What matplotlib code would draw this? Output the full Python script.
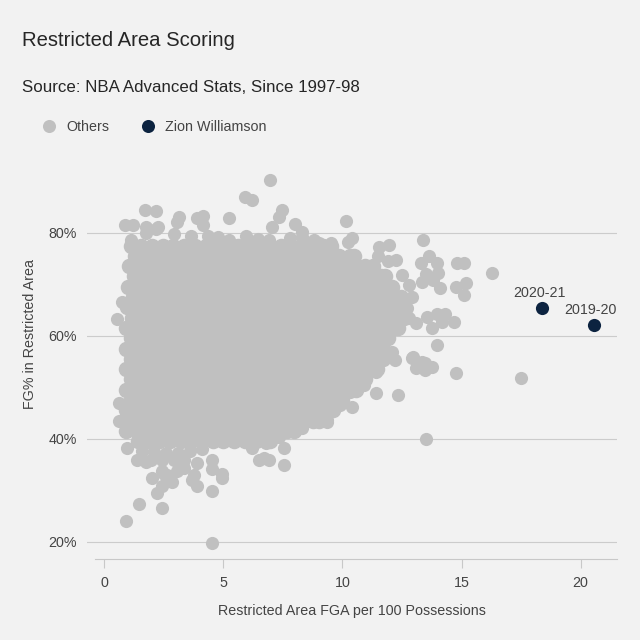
import matplotlib
matplotlib.use("Agg")
import matplotlib.pyplot as plt
from matplotlib.lines import Line2D

plt.rcParams['font.family'] = ['Liberation Sans', 'DejaVu Sans']

# dense body of the "Others" cloud, read row by row (FG% row, FGA values)
core_y = [77.5, 75.5, 73.5, 71.5, 69.5, 67.5, 65.5, 63.5, 61.5, 59.5,
          57.5, 55.5, 53.5, 51.5, 49.5, 47.5, 45.5, 43.5, 41.5, 39.5]
core_x = [
    [1.1, 1.55, 2.0, 2.45, 2.9, 3.35, 3.8, 4.25, 4.7, 5.15, 5.6, 6.05, 6.5, 6.95, 7.4, 7.85, 8.3, 8.75, 9.2, 9.5],
    [1.3, 1.75, 2.2, 2.65, 3.1, 3.55, 4.0, 4.45, 4.9, 5.35, 5.8, 6.25, 6.7, 7.15, 7.6, 8.05, 8.5, 8.95, 9.4, 9.85, 10.3, 10.5],
    [1.05, 1.5, 1.95, 2.4, 2.85, 3.3, 3.75, 4.2, 4.65, 5.1, 5.55, 6.0, 6.45, 6.9, 7.35, 7.8, 8.25, 8.7, 9.15, 9.6, 10.05, 10.5, 10.95, 11.3],
    [1.25, 1.7, 2.15, 2.6, 3.05, 3.5, 3.95, 4.4, 4.85, 5.3, 5.75, 6.2, 6.65, 7.1, 7.55, 8.0, 8.45, 8.9, 9.35, 9.8, 10.25, 10.7, 11.15, 11.6, 11.8],
    [1.0, 1.45, 1.9, 2.35, 2.8, 3.25, 3.7, 4.15, 4.6, 5.05, 5.5, 5.95, 6.4, 6.85, 7.3, 7.75, 8.2, 8.65, 9.1, 9.55, 10.0, 10.45, 10.9, 11.35, 11.8, 12.1],
    [1.2, 1.65, 2.1, 2.55, 3.0, 3.45, 3.9, 4.35, 4.8, 5.25, 5.7, 6.15, 6.6, 7.05, 7.5, 7.95, 8.4, 8.85, 9.3, 9.75, 10.2, 10.65, 11.1, 11.55, 12.0, 12.45],
    [0.95, 1.4, 1.85, 2.3, 2.75, 3.2, 3.65, 4.1, 4.55, 5.0, 5.45, 5.9, 6.35, 6.8, 7.25, 7.7, 8.15, 8.6, 9.05, 9.5, 9.95, 10.4, 10.85, 11.3, 11.75, 12.2, 12.6],
    [1.15, 1.6, 2.05, 2.5, 2.95, 3.4, 3.85, 4.3, 4.75, 5.2, 5.65, 6.1, 6.55, 7.0, 7.45, 7.9, 8.35, 8.8, 9.25, 9.7, 10.15, 10.6, 11.05, 11.5, 11.95, 12.4, 12.6],
    [0.9, 1.35, 1.8, 2.25, 2.7, 3.15, 3.6, 4.05, 4.5, 4.95, 5.4, 5.85, 6.3, 6.75, 7.2, 7.65, 8.1, 8.55, 9.0, 9.45, 9.9, 10.35, 10.8, 11.25, 11.7, 12.15, 12.35],
    [1.1, 1.55, 2.0, 2.45, 2.9, 3.35, 3.8, 4.25, 4.7, 5.15, 5.6, 6.05, 6.5, 6.95, 7.4, 7.85, 8.3, 8.75, 9.2, 9.65, 10.1, 10.55, 11.0, 11.45, 11.9],
    [0.9, 1.35, 1.8, 2.25, 2.7, 3.15, 3.6, 4.05, 4.5, 4.95, 5.4, 5.85, 6.3, 6.75, 7.2, 7.65, 8.1, 8.55, 9.0, 9.45, 9.9, 10.35, 10.8, 11.25, 11.7],
    [1.1, 1.55, 2.0, 2.45, 2.9, 3.35, 3.8, 4.25, 4.7, 5.15, 5.6, 6.05, 6.5, 6.95, 7.4, 7.85, 8.3, 8.75, 9.2, 9.65, 10.1, 10.55, 11.0, 11.45, 11.7],
    [0.9, 1.35, 1.8, 2.25, 2.7, 3.15, 3.6, 4.05, 4.5, 4.95, 5.4, 5.85, 6.3, 6.75, 7.2, 7.65, 8.1, 8.55, 9.0, 9.45, 9.9, 10.35, 10.8, 11.25, 11.45],
    [1.1, 1.55, 2.0, 2.45, 2.9, 3.35, 3.8, 4.25, 4.7, 5.15, 5.6, 6.05, 6.5, 6.95, 7.4, 7.85, 8.3, 8.75, 9.2, 9.65, 10.1, 10.55, 10.95],
    [0.9, 1.35, 1.8, 2.25, 2.7, 3.15, 3.6, 4.05, 4.5, 4.95, 5.4, 5.85, 6.3, 6.75, 7.2, 7.65, 8.1, 8.55, 9.0, 9.45, 9.9, 10.35, 10.55],
    [1.1, 1.55, 2.0, 2.45, 2.9, 3.35, 3.8, 4.25, 4.7, 5.15, 5.6, 6.05, 6.5, 6.95, 7.4, 7.85, 8.3, 8.75, 9.2, 9.65, 10.0],
    [0.9, 1.35, 1.8, 2.25, 2.7, 3.15, 3.6, 4.05, 4.5, 4.95, 5.4, 5.85, 6.3, 6.75, 7.2, 7.65, 8.1, 8.55, 9.0, 9.45, 9.6],
    [1.1, 1.55, 2.0, 2.45, 2.9, 3.35, 3.8, 4.25, 4.7, 5.15, 5.6, 6.05, 6.5, 6.95, 7.4, 7.85, 8.3, 8.75, 9.0],
    [0.9, 1.35, 1.8, 2.25, 2.7, 3.15, 3.6, 4.05, 4.5, 4.95, 5.4, 5.85, 6.3, 6.75, 7.2, 7.65, 7.95],
    [1.4, 1.85, 2.3, 2.75, 3.2, 3.65, 4.1, 4.55, 5.0, 5.45, 5.9, 6.35, 6.8, 6.95],
]

# scattered "Others" seasons around the body
edge_x = [0.85, 1.2, 1.7, 2.15, 1.75, 2.25, 3.15, 3.07, 3.9, 4.15, 4.15, 5.25, 5.9, 6.2, 6.95,
          7.05, 7.45, 7.35, 8.0, 8.3, 10.15, 10.4, 10.25, 9.5,
          1.12, 1.75, 2.17, 2.94, 3.64, 4.34, 4.76, 5.25, 5.95, 6.44, 6.93, 8.8, 9.0, 7.8, 8.3,
          11.55, 11.95, 11.5, 11.9, 12.25, 13.4, 13.65, 13.3, 13.95, 14.0, 13.5, 13.35, 13.8, 14.1,
          14.8, 15.1, 14.75, 15.2, 15.1, 16.3, 12.5, 12.8, 12.9, 12.7, 12.8,
          13.57, 13.95, 14.3, 14.7, 14.2, 13.75, 13.1, 13.95, 12.95, 13.45, 13.75, 13.1, 13.45,
          14.75, 17.5, 11.4, 12.35, 13.5, 12.2, 12.1, 12.9, 13.35,
          11.4, 10.9, 10.3, 9.9, 10.4, 9.35, 8.7, 8.3, 10.6, 9.37, 8.6, 7.35, 6.8, 6.2, 7.56, 7.56,
          6.93, 6.5, 6.72,
          0.97, 1.35, 1.76, 2.0, 2.2, 2.4, 2.86, 2.5, 3.36, 3.78, 3.9, 4.5, 4.5, 4.54, 4.96, 4.92,
          1.47, 2.44, 0.92, 4.54, 3.07, 3.66, 3.9, 3.36, 2.4, 2.65, 1.97, 2.4, 2.94,
          1.6, 2.1, 2.6, 3.1, 3.6, 4.1,
          0.55, 0.76, 0.6, 0.6]
edge_y = [81.4, 81.4, 84.5, 84.3, 81.2, 81.2, 83.1, 82.1, 82.9, 83.3, 81.4, 82.9, 87.0, 86.4, 90.3,
          81.2, 84.5, 83.1, 81.6, 80.2, 82.3, 79.0, 78.2, 78.0,
          78.5, 80.0, 80.8, 79.8, 79.4, 79.4, 79.2, 78.5, 79.4, 78.8, 78.5, 78.6, 78.0, 79.0, 79.2,
          77.3, 77.7, 75.5, 74.5, 74.7, 78.6, 75.5, 74.1, 74.1, 72.2, 72.0, 70.5, 70.8, 69.3,
          74.1, 74.2, 69.5, 70.3, 67.9, 72.2, 71.8, 69.9, 67.5, 65.4, 63.4,
          63.6, 64.2, 64.2, 62.7, 62.7, 61.5, 62.5, 58.2, 55.8, 54.7, 53.9, 53.7, 53.3,
          52.7, 51.8, 48.8, 48.4, 39.9, 55.3, 56.8, 55.6, 54.9,
          52.9, 50.4, 49.0, 46.5, 46.1, 43.6, 44.9, 42.0, 50.8, 43.2, 44.9, 40.3, 39.1, 38.1, 38.1, 34.8,
          35.8, 35.8, 36.2,
          38.1, 35.8, 35.4, 32.3, 29.5, 30.9, 31.5, 33.2, 34.4, 32.9, 30.9, 29.9, 35.8, 34.2, 33.2, 32.3,
          27.4, 26.6, 24.1, 19.8, 33.8, 31.9, 35.2, 35.8, 33.8, 32.9, 35.8, 35.8, 35.8,
          37.6, 37.4, 37.3, 37.3, 37.6, 38.0,
          63.3, 66.6, 43.5, 47.0]

zion_x = [18.4, 20.55]
zion_y = [65.4, 62.1]
zion_labels = ["2020-21", "2019-20"]

y_ticks = [20, 40, 60, 80]
x_ticks = [0, 5, 10, 15, 20]

bg = '#f2f2f2'
grey = '#c0c0c0'
navy = '#0c2340'
txt = '#444444'

body_x = [x for row in core_x for x in row]
body_y = [y for y, row in zip(core_y, core_x) for _ in row]

fig = plt.figure(figsize=(6.4, 6.4), dpi=100, facecolor=bg)
ax = fig.add_axes([87 / 640, 1 - 559.3 / 640, 530 / 640, 409 / 640], facecolor=bg)

ax.scatter(body_x, body_y, s=125, color=grey, linewidths=0, zorder=2)
ax.scatter(edge_x, edge_y, s=90, color=grey, linewidths=0, zorder=2)
ax.scatter(zion_x, zion_y, s=90, color=navy, linewidths=0, zorder=3)
for x, y, lab in zip(zion_x, zion_y, zion_labels):
    ax.annotate(lab, (x, y), xytext=(-3, 15), textcoords='offset pixels',
                ha='center', va='center', fontsize=10.3, color=txt)

ax.set_xlim(-0.73, 21.53)
ax.set_ylim(16.58, 96)
ax.set_xticks(x_ticks)
ax.set_yticks(y_ticks)
ax.set_yticklabels([f"{v}%" for v in y_ticks])
ax.yaxis.grid(True, color='#cccccc', linewidth=0.8, zorder=0)
ax.set_axisbelow(True)
for side in ['top', 'right', 'left']:
    ax.spines[side].set_visible(False)
ax.spines['bottom'].set_color('#c8c8c8')
ax.spines['bottom'].set_linewidth(0.8)
ax.spines['bottom'].set_bounds(-0.39, 21.53)
ax.tick_params(axis='x', length=6.5, width=0.8, color='#c8c8c8', pad=5.8,
               labelsize=10.3, labelcolor=txt)
ax.tick_params(axis='y', length=0, pad=7.4, labelsize=10.3, labelcolor=txt)

ax.set_xlabel("Restricted Area FGA per 100 Possessions", fontsize=10.3, color=txt, labelpad=10)
fig.text(30 / 640, 1 - 334 / 640, "FG% in Restricted Area", rotation=90,
         ha='center', va='center', fontsize=10.3, color=txt)

fig.text(22 / 640, 1 - 40 / 640, "Restricted Area Scoring", fontsize=14.6,
         color='#262626', ha='left', va='center')
fig.text(22 / 640, 1 - 88 / 640, "Source: NBA Advanced Stats, Since 1997-98", fontsize=12.2,
         color='#262626', ha='left', va='center')

handles = [Line2D([], [], marker='o', linestyle='', markersize=9.4, color=grey, markeredgewidth=0),
           Line2D([], [], marker='o', linestyle='', markersize=9.4, color=navy, markeredgewidth=0)]
fig.legend(handles, ["Others", "Zion Williamson"], loc='center left',
           bbox_to_anchor=(42 / 640, 1 - 127 / 640), ncol=2, frameon=False,
           borderpad=0, borderaxespad=0, handlelength=1.0, handletextpad=0.7,
           columnspacing=2.2, prop={'size': 10.3}, labelcolor=txt)

fig.savefig('out.png', dpi=100, facecolor=bg)
